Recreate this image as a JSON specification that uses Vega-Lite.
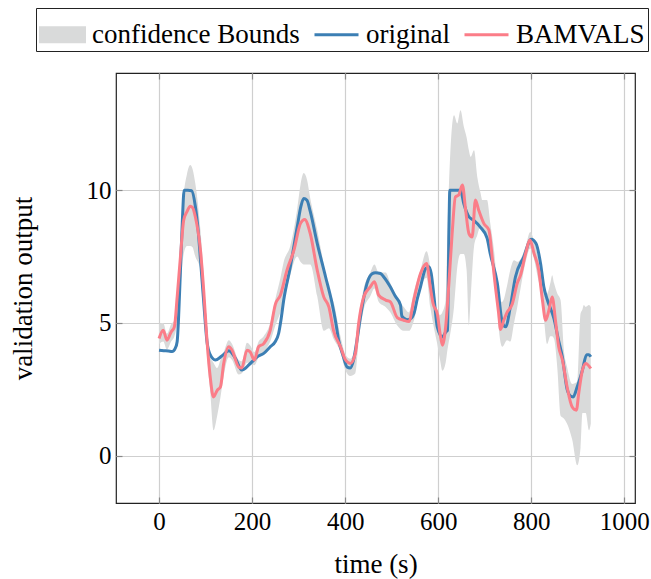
{
  "$schema": "https://vega.github.io/schema/vega-lite/v6.json",
  "autosize": {"type": "none"},
  "padding": {"left": 116, "top": 73, "right": 16, "bottom": 76},
  "width": 519,
  "height": 430,
  "background": "white",
  "config": {
    "font": "Liberation Serif",
    "view": {"stroke": "#222", "strokeWidth": 1.2},
    "axis": {"labelFont": "Liberation Serif", "titleFont": "Liberation Serif", "labelColor": "#000", "titleColor": "#000", "titleFontWeight": "normal", "domain": false}
  },
  "datasets": {
    "orig": [
      {"t":0,"v":3.97},{"t":10,"v":3.95},{"t":20,"v":3.94},{"t":28,"v":3.92},{"t":35,"v":4.05},{"t":39,"v":4.3},{"t":42,"v":5.2},{"t":46,"v":7.0},{"t":50,"v":8.8},{"t":54,"v":10.0},{"t":62,"v":10.0},{"t":70,"v":9.98},{"t":78,"v":9.4},{"t":84,"v":8.5},{"t":89,"v":7.4},{"t":96,"v":5.8},{"t":103,"v":4.3},{"t":110,"v":3.8},{"t":121,"v":3.6},{"t":135,"v":3.75},{"t":150,"v":3.95},{"t":163,"v":3.7},{"t":178,"v":3.22},{"t":195,"v":3.45},{"t":211,"v":3.72},{"t":225,"v":3.85},{"t":239,"v":4.1},{"t":250,"v":4.3},{"t":257,"v":4.6},{"t":262,"v":5.1},{"t":268,"v":5.86},{"t":282,"v":7.1},{"t":297,"v":8.62},{"t":305,"v":9.4},{"t":311,"v":9.69},{"t":318,"v":9.62},{"t":325,"v":9.2},{"t":340,"v":8.0},{"t":358,"v":6.73},{"t":372,"v":5.73},{"t":380,"v":5.0},{"t":386,"v":4.35},{"t":395,"v":3.8},{"t":404,"v":3.34},{"t":411,"v":3.3},{"t":418,"v":3.6},{"t":425,"v":4.3},{"t":433,"v":5.23},{"t":447,"v":6.49},{"t":458,"v":6.85},{"t":465,"v":6.89},{"t":476,"v":6.86},{"t":483,"v":6.73},{"t":497,"v":6.36},{"t":508,"v":6.0},{"t":519,"v":5.67},{"t":522,"v":5.25},{"t":533,"v":5.12},{"t":540,"v":5.15},{"t":548,"v":5.36},{"t":555,"v":5.9},{"t":562,"v":6.36},{"t":573,"v":7.05},{"t":580,"v":7.12},{"t":585,"v":6.86},{"t":591,"v":5.98},{"t":598,"v":4.85},{"t":609,"v":4.47},{"t":616,"v":4.65},{"t":620,"v":4.72},{"t":623,"v":8.4},{"t":625,"v":10.0},{"t":648,"v":10.0},{"t":655,"v":9.5},{"t":666,"v":9.0},{"t":676,"v":8.87},{"t":690,"v":8.62},{"t":705,"v":8.2},{"t":712,"v":7.6},{"t":727,"v":6.5},{"t":738,"v":5.0},{"t":745,"v":4.85},{"t":755,"v":5.6},{"t":766,"v":6.73},{"t":784,"v":7.49},{"t":800,"v":8.15},{"t":810,"v":8.0},{"t":820,"v":7.24},{"t":827,"v":6.36},{"t":834,"v":5.9},{"t":849,"v":5.15},{"t":858,"v":4.4},{"t":867,"v":3.7},{"t":877,"v":2.5},{"t":884,"v":2.25},{"t":890,"v":2.21},{"t":899,"v":2.6},{"t":910,"v":3.22},{"t":919,"v":3.8},{"t":924,"v":3.8},{"t":928,"v":3.72}
    ],
    "bam": [
      {"t":0,"v":4.41},{"t":9,"v":4.72},{"t":17,"v":4.35},{"t":26,"v":4.66},{"t":33,"v":4.85},{"t":39,"v":5.98},{"t":46,"v":7.49},{"t":53,"v":8.87},{"t":60,"v":9.19},{"t":67,"v":9.4},{"t":72,"v":9.35},{"t":78,"v":9.0},{"t":89,"v":7.74},{"t":96,"v":6.23},{"t":103,"v":4.35},{"t":110,"v":2.96},{"t":117,"v":2.21},{"t":125,"v":2.46},{"t":132,"v":2.59},{"t":139,"v":3.47},{"t":150,"v":4.1},{"t":157,"v":3.97},{"t":171,"v":3.34},{"t":178,"v":3.3},{"t":189,"v":3.97},{"t":196,"v":3.9},{"t":205,"v":3.6},{"t":214,"v":4.1},{"t":225,"v":4.22},{"t":239,"v":4.72},{"t":250,"v":5.7},{"t":261,"v":6.05},{"t":275,"v":6.99},{"t":290,"v":7.74},{"t":304,"v":8.75},{"t":313,"v":8.9},{"t":325,"v":8.37},{"t":340,"v":6.99},{"t":354,"v":5.98},{"t":365,"v":5.6},{"t":375,"v":4.72},{"t":390,"v":4.1},{"t":401,"v":3.6},{"t":411,"v":3.47},{"t":422,"v":3.85},{"t":429,"v":4.98},{"t":440,"v":5.98},{"t":454,"v":6.36},{"t":463,"v":6.55},{"t":472,"v":6.05},{"t":487,"v":5.86},{"t":497,"v":5.8},{"t":512,"v":5.2},{"t":526,"v":5.1},{"t":537,"v":5.05},{"t":548,"v":5.9},{"t":562,"v":6.86},{"t":575,"v":7.24},{"t":583,"v":6.36},{"t":589,"v":5.73},{"t":598,"v":5.35},{"t":604,"v":4.6},{"t":609,"v":4.16},{"t":616,"v":4.85},{"t":623,"v":6.49},{"t":630,"v":8.37},{"t":637,"v":9.75},{"t":644,"v":9.82},{"t":652,"v":10.2},{"t":659,"v":9.25},{"t":666,"v":8.37},{"t":673,"v":8.24},{"t":680,"v":9.63},{"t":687,"v":9.25},{"t":698,"v":8.75},{"t":709,"v":8.5},{"t":716,"v":7.49},{"t":723,"v":6.36},{"t":730,"v":5.35},{"t":734,"v":4.75},{"t":741,"v":5.1},{"t":748,"v":5.4},{"t":759,"v":5.7},{"t":770,"v":6.5},{"t":777,"v":6.8},{"t":788,"v":7.62},{"t":797,"v":8.12},{"t":806,"v":7.62},{"t":816,"v":6.99},{"t":824,"v":5.86},{"t":831,"v":5.1},{"t":838,"v":5.48},{"t":845,"v":5.98},{"t":852,"v":5.1},{"t":859,"v":4.1},{"t":867,"v":3.6},{"t":877,"v":2.59},{"t":888,"v":1.83},{"t":897,"v":1.71},{"t":902,"v":2.34},{"t":910,"v":3.22},{"t":917,"v":3.47},{"t":928,"v":3.28}
    ],
    "band": [
      {"t":0,"lo":4.2,"hi":4.95},{"t":9,"lo":4.3,"hi":5.0},{"t":17,"lo":4.0,"hi":4.6},{"t":26,"lo":4.3,"hi":4.95},{"t":33,"lo":4.5,"hi":5.1},{"t":39,"lo":5.0,"hi":6.2},{"t":46,"lo":6.4,"hi":7.9},{"t":53,"lo":7.6,"hi":9.8},{"t":60,"lo":7.9,"hi":10.6},{"t":67,"lo":7.9,"hi":10.95},{"t":72,"lo":7.85,"hi":10.8},{"t":78,"lo":7.5,"hi":10.25},{"t":89,"lo":7.0,"hi":8.5},{"t":96,"lo":5.7,"hi":6.8},{"t":103,"lo":3.8,"hi":4.9},{"t":110,"lo":2.4,"hi":3.7},{"t":117,"lo":0.95,"hi":3.5},{"t":125,"lo":1.5,"hi":3.3},{"t":132,"lo":2.2,"hi":3.6},{"t":139,"lo":3.0,"hi":3.9},{"t":150,"lo":3.7,"hi":4.35},{"t":157,"lo":3.6,"hi":4.2},{"t":171,"lo":3.05,"hi":3.6},{"t":178,"lo":3.1,"hi":3.55},{"t":189,"lo":3.5,"hi":4.25},{"t":196,"lo":3.5,"hi":4.15},{"t":205,"lo":3.4,"hi":3.9},{"t":214,"lo":3.7,"hi":4.3},{"t":225,"lo":3.9,"hi":4.5},{"t":239,"lo":4.3,"hi":5.0},{"t":250,"lo":4.9,"hi":5.9},{"t":261,"lo":5.4,"hi":6.7},{"t":268,"lo":5.8,"hi":7.3},{"t":282,"lo":6.8,"hi":7.9},{"t":297,"lo":7.5,"hi":9.3},{"t":304,"lo":7.3,"hi":10.2},{"t":311,"lo":7.2,"hi":10.65},{"t":318,"lo":7.2,"hi":10.4},{"t":325,"lo":7.2,"hi":9.7},{"t":340,"lo":6.0,"hi":8.5},{"t":354,"lo":4.7,"hi":7.2},{"t":365,"lo":4.8,"hi":6.2},{"t":375,"lo":4.4,"hi":5.8},{"t":390,"lo":3.9,"hi":4.5},{"t":401,"lo":3.2,"hi":3.8},{"t":411,"lo":3.0,"hi":3.65},{"t":422,"lo":3.1,"hi":4.1},{"t":429,"lo":4.3,"hi":5.2},{"t":440,"lo":5.5,"hi":6.3},{"t":454,"lo":6.0,"hi":6.9},{"t":463,"lo":6.3,"hi":7.2},{"t":472,"lo":5.8,"hi":6.9},{"t":487,"lo":5.6,"hi":6.9},{"t":497,"lo":5.4,"hi":6.5},{"t":512,"lo":4.9,"hi":5.9},{"t":526,"lo":4.7,"hi":5.6},{"t":537,"lo":4.7,"hi":5.4},{"t":548,"lo":5.1,"hi":6.2},{"t":562,"lo":6.3,"hi":7.0},{"t":575,"lo":6.7,"hi":7.7},{"t":583,"lo":5.6,"hi":7.1},{"t":591,"lo":4.8,"hi":5.9},{"t":598,"lo":4.2,"hi":5.48},{"t":604,"lo":3.6,"hi":5.3},{"t":609,"lo":3.2,"hi":5.4},{"t":616,"lo":3.5,"hi":5.86},{"t":620,"lo":4.0,"hi":8.5},{"t":626,"lo":4.6,"hi":11.4},{"t":634,"lo":5.6,"hi":12.83},{"t":641,"lo":7.1,"hi":12.52},{"t":648,"lo":7.6,"hi":13.02},{"t":655,"lo":7.6,"hi":12.4},{"t":661,"lo":7.0,"hi":12.0},{"t":666,"lo":4.9,"hi":11.5},{"t":670,"lo":6.0,"hi":11.26},{"t":677,"lo":7.87,"hi":11.51},{"t":684,"lo":8.3,"hi":10.5},{"t":691,"lo":8.62,"hi":9.9},{"t":695,"lo":8.5,"hi":9.63},{"t":705,"lo":8.25,"hi":9.63},{"t":712,"lo":7.6,"hi":8.75},{"t":720,"lo":6.5,"hi":7.74},{"t":727,"lo":5.5,"hi":6.4},{"t":730,"lo":4.8,"hi":5.8},{"t":738,"lo":4.1,"hi":5.8},{"t":748,"lo":4.35,"hi":6.4},{"t":755,"lo":4.3,"hi":7.0},{"t":763,"lo":5.0,"hi":7.36},{"t":770,"lo":5.6,"hi":7.3},{"t":777,"lo":6.3,"hi":7.4},{"t":788,"lo":7.3,"hi":7.9},{"t":798,"lo":7.8,"hi":8.43},{"t":806,"lo":7.4,"hi":8.1},{"t":813,"lo":6.8,"hi":7.62},{"t":820,"lo":6.2,"hi":7.0},{"t":827,"lo":5.2,"hi":6.36},{"t":834,"lo":4.2,"hi":6.1},{"t":841,"lo":4.5,"hi":6.5},{"t":845,"lo":4.5,"hi":6.8},{"t":849,"lo":4.4,"hi":6.5},{"t":856,"lo":3.3,"hi":6.11},{"t":863,"lo":1.5,"hi":5.86},{"t":870,"lo":1.4,"hi":4.0},{"t":877,"lo":1.2,"hi":3.34},{"t":888,"lo":0.6,"hi":2.7},{"t":899,"lo":-0.37,"hi":2.8},{"t":906,"lo":0.3,"hi":5.35},{"t":910,"lo":1.6,"hi":5.5},{"t":913,"lo":1.6,"hi":5.67},{"t":917,"lo":1.6,"hi":5.6},{"t":924,"lo":0.95,"hi":5.67},{"t":928,"lo":1.2,"hi":5.6}
    ]
  },
  "resolve": {"axis": {"x": "independent", "y": "independent"}},
  "layer": [
    {
      "data": {"name": "band"},
      "mark": {"type": "area", "opacity": 1, "interpolate": "monotone"},
      "encoding": {
        "x": {"field": "t", "type": "quantitative", "scale": {"domain": [-92.5, 1023], "nice": false, "zero": false},
              "axis": {"orient": "top", "values": [0,200,400,600,800,1000], "labels": false, "grid": false, "title": null, "tickSize": -6, "tickColor": "#888", "tickWidth": 1.2}},
        "y": {"field": "hi", "type": "quantitative", "scale": {"domain": [-1.79, 14.42], "nice": false, "zero": false},
              "axis": {"orient": "right", "values": [0,5,10], "labels": false, "grid": false, "title": null, "tickSize": -6, "tickColor": "#888", "tickWidth": 1.2}},
        "y2": {"field": "lo"},
        "color": {
          "datum": "confidence Bounds",
          "type": "nominal",
          "scale": {"domain": ["confidence Bounds", "original", "BAMVALS"], "range": ["#d9dada", "#3c7fb4", "#fb7d88"]},
          "legend": {
            "title": null,
            "orient": "none",
            "legendX": -80,
            "legendY": -65,
            "direction": "horizontal",
            "strokeColor": "#222",
            "padding": 3,
            "symbolType": "M-1,-0.32M-1,0L1,0M1,0.32",
            "symbolSize": 1936,
            "symbolStrokeWidth": 3,
            "labelFont": "Liberation Serif",
            "labelFontSize": 27,
            "labelColor": "#000",
            "labelOffset": 6,
            "columnPadding": 8,
            "labelLimit": 400,
            "encoding": {
              "symbols": {
                "shape": {"value": {"expr": "datum.value === 'confidence Bounds' ? 'M-1,-0.32H1V0.32H-1Z' : 'M-1,-0.32M-1,0L1,0M1,0.32'"}},
                "fill": {"value": {"expr": "datum.value === 'confidence Bounds' ? '#d9dada' : 'transparent'"}}
              }
            }
          }
        }
      }
    },
    {
      "data": {"name": "orig"},
      "mark": {"type": "line", "strokeWidth": 3, "interpolate": "monotone"},
      "encoding": {
        "x": {"field": "t", "type": "quantitative", "scale": {"domain": [-92.5, 1023], "nice": false, "zero": false},
              "axis": {"orient": "bottom", "values": [0,200,400,600,800,1000], "format": "d", "title": "time (s)", "titleFontSize": 27, "labelFontSize": 25, "grid": true, "gridColor": "#cfcfcf", "gridWidth": 1.2, "tickSize": -6, "tickColor": "#888", "tickWidth": 1.2, "labelPadding": 12, "titlePadding": 17, "labelFlush": false}},
        "y": {"field": "v", "type": "quantitative", "scale": {"domain": [-1.79, 14.42], "nice": false, "zero": false},
              "axis": {"orient": "left", "values": [0,5,10], "title": "validation output", "titleFontSize": 27, "labelFontSize": 25, "grid": true, "gridColor": "#cfcfcf", "gridWidth": 1.2, "tickSize": -6, "tickColor": "#888", "tickWidth": 1.2, "labelPadding": 11, "titlePadding": 49, "labelFlush": false}},
        "color": {"datum": "original", "type": "nominal"}
      }
    },
    {
      "data": {"name": "bam"},
      "mark": {"type": "line", "strokeWidth": 3, "interpolate": "monotone"},
      "encoding": {
        "x": {"field": "t", "type": "quantitative", "axis": null},
        "y": {"field": "v", "type": "quantitative", "axis": null},
        "color": {"datum": "BAMVALS", "type": "nominal"}
      }
    }
  ]
}
